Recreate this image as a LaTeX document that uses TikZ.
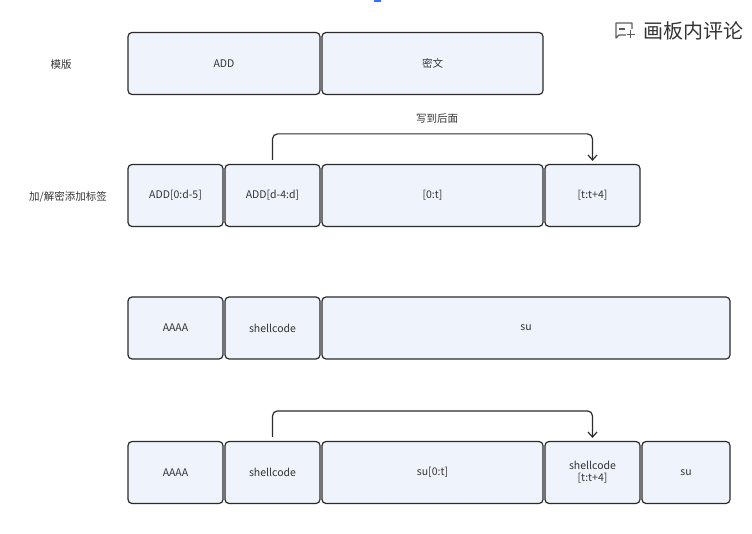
\documentclass[tikz,border=0pt]{standalone}
\usepackage{fontspec}
\setmainfont{Noto Sans CJK SC}
\usepackage{tikz}
\usetikzlibrary{arrows.meta}

\definecolor{cellfill}{HTML}{EEF3FC}
\definecolor{celldraw}{HTML}{2B2B2B}
\definecolor{labeltext}{HTML}{333333}
\definecolor{markblue}{HTML}{3370FF}

\tikzset{
  cell/.style={draw=celldraw, fill=cellfill, line width=1.2pt, rounded corners=4pt,
    minimum height=62pt, inner sep=0pt, align=center, font=\fontsize{10.5}{12}\selectfont,
    text=labeltext},
  rowlabel/.style={font=\fontsize{10.5}{12}\selectfont, text=labeltext},
  link/.style={draw=celldraw, line width=1.2pt, rounded corners=5pt,
    -{Straight Barb[length=5pt,width=9pt]}, shorten <=4pt, shorten >=3pt},
}

\begin{document}
\begin{tikzpicture}[x=1pt,y=-1pt]%[show background grid]
\useasboundingbox (0,0) rectangle (752,534);

\fill[markblue] (374,0) rectangle (381,2);

% board comment
\draw[draw=labeltext!80, line width=1.2pt, line join=round]
  (626,35) -- (619,35) -- (616,38) -- (616,23) -- (632,23) -- (632,29);
\draw[draw=labeltext!80, line width=1.2pt] (619,29) -- (625,29);
\draw[draw=labeltext!80, line width=1.2pt] (626.5,34.5) -- (634.5,34.5) (630.5,30.5) -- (630.5,38.5);
\node[font=\fontsize{20}{22}\selectfont, text=labeltext] (comment) at (693,31) {画板内评论};

\node[rowlabel] (tpl) at (61,65) {模版};
\node[cell, minimum width=192pt] (add) at (224,63.5) {ADD};
\node[cell, minimum width=221pt] (cipher) at (432.5,63.5) {密文};

\node[rowlabel] (tag) at (68,197) {加/解密添加标签};
\node[cell, minimum width=95pt] (tag1) at (175.5,195.5) {ADD[0:d-5]};
\node[cell, minimum width=95pt] (tag2) at (272.5,195.5) {ADD[d-4:d]};
\node[cell, minimum width=221pt] (tag3) at (432.5,195.5) {[0:t]};
\node[cell, minimum width=95pt] (tag4) at (592.5,195.5) {[t:t+4]};
\node[rowlabel] (move) at (437,119) {写到后面};

\node[cell, minimum width=95pt] (pay1) at (175.5,328) {AAAA};
\node[cell, minimum width=95pt] (pay2) at (272.5,328) {shellcode};
\node[cell, minimum width=408pt] (pay3) at (526,328) {su};

\node[cell, minimum width=95pt] (out1) at (175.5,472.5) {AAAA};
\node[cell, minimum width=95pt] (out2) at (272.5,472.5) {shellcode};
\node[cell, minimum width=221pt] (out3) at (432.5,472.5) {su[0:t]};
\node[cell, minimum width=95pt] (out4) at (592.5,472.5) {shellcode\\[0pt][t:t+4]};
\node[cell, minimum width=88pt] (out5) at (686,472.5) {su};

\draw[link] (tag2.north) -- ++(0,-30) -| (tag4.north);
\draw[link] (out2.north) -- ++(0,-30) -| (out4.north);

\end{tikzpicture}
\end{document}
